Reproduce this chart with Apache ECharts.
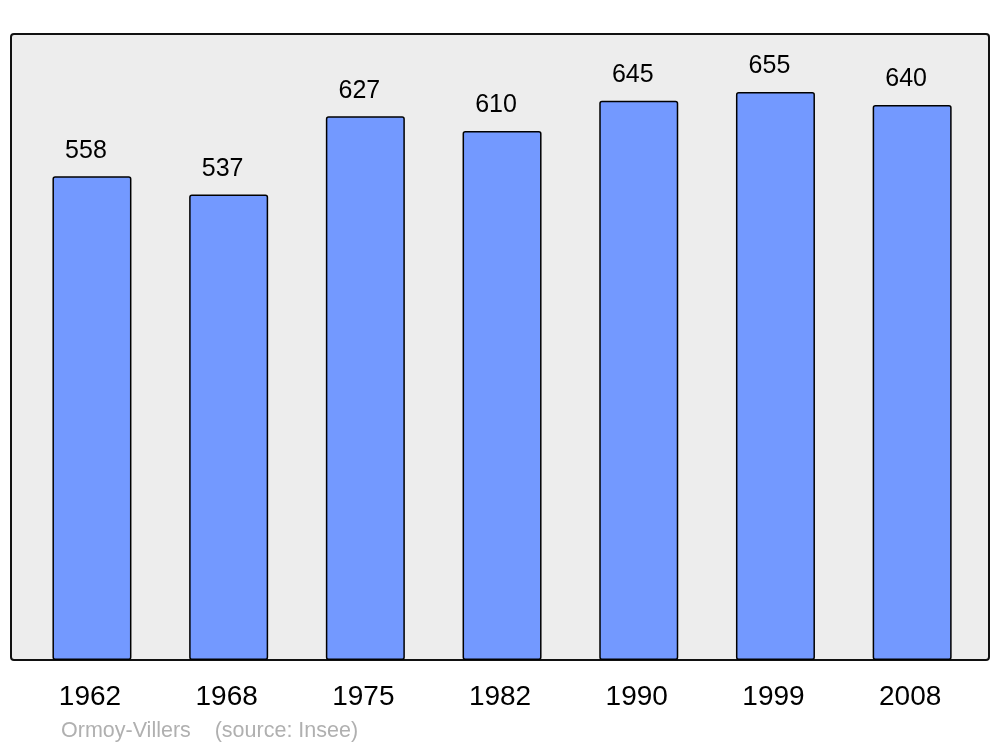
<!DOCTYPE html>
<html>
<head>
<meta charset="utf-8">
<script src="https://cdn.jsdelivr.net/npm/echarts@6/dist/echarts.min.js"></script>
<style>html,body{margin:0;padding:0;background:#fff}#c{width:1000px;height:747px}</style>
</head>
<body>
<div id="c"></div>
<script>
const years = ['1962', '1968', '1975', '1982', '1990', '1999', '2008'];
const population = [558, 537, 627, 610, 645, 655, 640];
const sourceText = 'Ormoy-Villers    (source: Insee)';

const chart = echarts.init(document.getElementById('c'), null, {renderer: 'canvas'});
chart.setOption({
  animation: false,
  backgroundColor: '#ffffff',
  textStyle: {fontFamily: 'Liberation Sans'},
  grid: {left: 23.6, right: 19.5, top: 34, bottom: 87},
  graphic: [
    {type: 'rect', z: -10, shape: {x: 11, y: 34, width: 978, height: 626, r: 3},
     style: {fill: '#ededed', stroke: '#111111', lineWidth: 2}},
    {type: 'text', left: 61, top: 720, style: {text: sourceText, fontSize: 21.5, fill: '#b0b0b0', fontFamily: 'Liberation Sans'}}
  ],
  xAxis: {
    type: 'category', data: years,
    axisLine: {show: false}, axisTick: {show: false},
    axisLabel: {fontSize: 28, color: '#000', margin: 23, padding: [0, 4, 0, 0], fontFamily: 'Liberation Sans'}
  },
  yAxis: {
    type: 'value', min: 0, max: 722,
    show: false, splitLine: {show: false}
  },
  series: [{
    type: 'bar', data: population, barWidth: 79,
    itemStyle: {color: '#7399ff', borderColor: '#000', borderWidth: 1.5, borderRadius: 2},
    label: {show: true, position: 'top', distance: 13, offset: [-6, 0], fontSize: 25, color: '#000', fontFamily: 'Liberation Sans'}
  }]
});
</script>
</body>
</html>
